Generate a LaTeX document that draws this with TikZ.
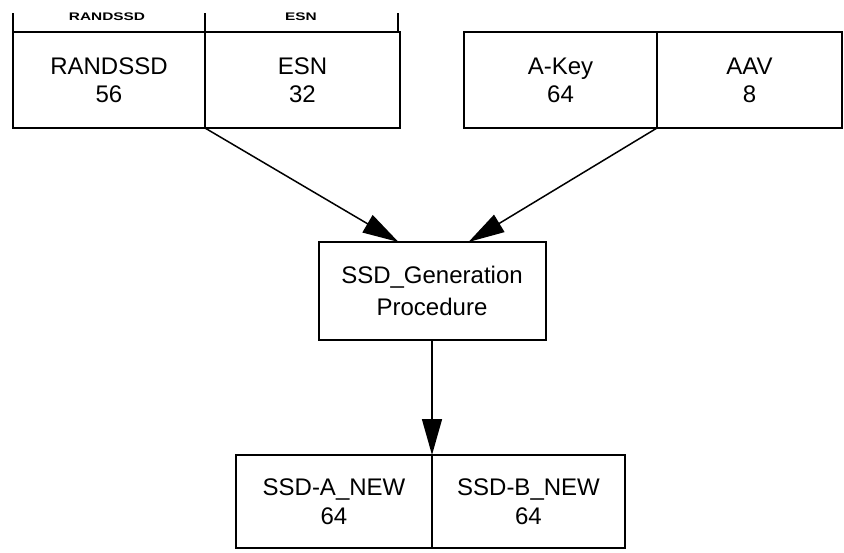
\documentclass[tikz,border=0pt]{standalone}
\usepackage{fontspec}
\setmainfont{Liberation Sans}
\usetikzlibrary{arrows.meta}
\begin{document}
\begin{tikzpicture}[x=1pt,y=-1pt,
  cell/.style={draw, line width=2pt, inner sep=0pt, outer sep=0pt, align=center, font=\fontsize{24}{28}\selectfont},
  genbox/.style={cell, font=\fontsize{24}{32}\selectfont},
  outcell/.style={cell, font=\fontsize{24}{29}\selectfont},
  tag/.style={inner sep=0pt, font=\fontsize{11}{12}\selectfont\bfseries, xscale=1.4, transform shape},
  flow/.style={line width=1.5pt, -{Triangle[length=36pt,width=20pt]}},
  bracket/.style={line width=2pt}]
\useasboundingbox (0,0) rectangle (844,552);
% top-left cells
\node[cell, minimum width=192pt, minimum height=96pt] (rand) at (109,80) {RANDSSD\\56};
\node[cell, minimum width=195pt, minimum height=96pt] (esn) at (302.5,80) {ESN\\32};
% top-right cells
\node[cell, minimum width=193pt, minimum height=96pt] (akey) at (560.5,80) {A-Key\\64};
\node[cell, minimum width=185pt, minimum height=96pt] (aav) at (749.5,80) {AAV\\8};
% bracket labels
\coordinate (b1) at (13,13);
\coordinate (b2) at (205,13);
\coordinate (b3) at (398,13);
\draw[bracket] (b1) -- (rand.north west);
\draw[bracket] (b2) -- (rand.north east);
\draw[bracket] (b3) -- (b3 |- esn.north);
\node[tag] (tagrand) at (107,17) {RANDSSD};
\node[tag] (tagesn) at (301,17) {ESN};
% generation box
\node[genbox, minimum width=227pt, minimum height=98pt] (gen) at (432,291) {SSD\_Generation\\Procedure};
% outputs
\node[outcell, minimum width=196pt, minimum height=93pt] (ssda) at (334,501.5) {SSD-A\_NEW\\64};
\node[outcell, minimum width=193pt, minimum height=93pt] (ssdb) at (528.5,501.5) {SSD-B\_NEW\\64};
% connectors
\draw[flow] (rand.south east) -- ([xshift=80pt]gen.north west);
\draw[flow] (akey.south east) -- ([xshift=150pt]gen.north west);
\draw[flow] (gen.south) -- (gen.south |- ssda.north);
\end{tikzpicture}
\end{document}
